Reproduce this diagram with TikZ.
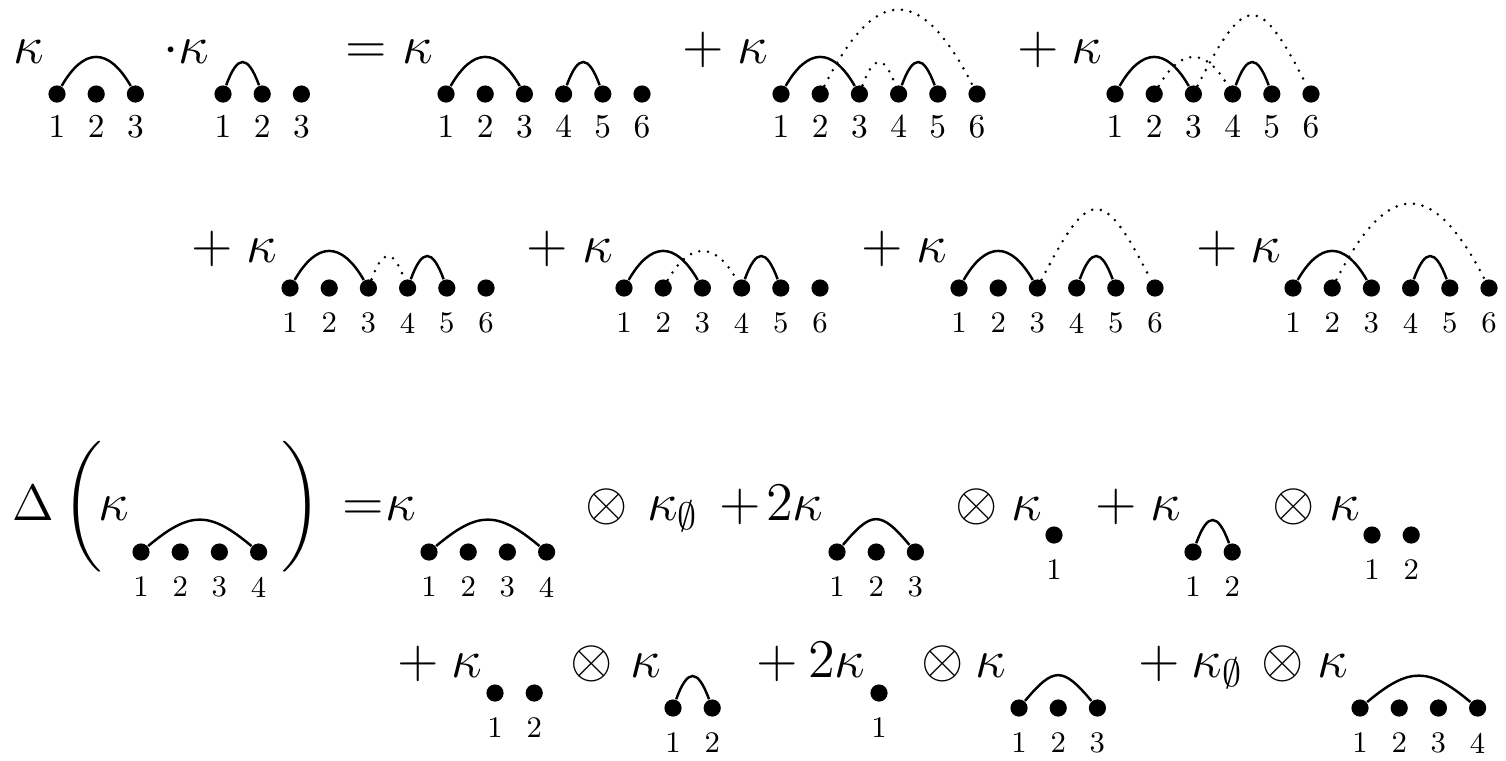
\documentclass[tikz,border=0pt]{standalone}
\usepackage{fix-cm}
\usepackage{amsmath,amssymb}
\usepackage{tikz}
\usetikzlibrary{positioning}

% a row of vertices #1<i>, numbered underneath (#5 = label style)
\newcommand{\vertrow}[5]{%
  \foreach \i in {1,...,#4}{%
    \node[vtx] (#1\i) at ({#2+39.2*(\i-1)},#3) {};
    \node[#5,below=of #1\i] (#1\i l) {\i};
  }}

\begin{document}
\begin{tikzpicture}[x=0.1mm,y=0.1mm]
    \tikzstyle{vtx}=[circle,fill,minimum size=1.72mm,inner sep=0pt];
    \tikzstyle{lbla}=[inner sep=0pt,font=\fontsize{9.5}{11}\selectfont,node distance=1.12mm];
    \tikzstyle{lblb}=[inner sep=0pt,font=\fontsize{8.5}{10}\selectfont,node distance=1.5mm];
    \tikzstyle{sym}=[inner sep=0pt,anchor=base,font=\fontsize{15.5}{18.6}\selectfont];
    \tikzstyle{chord}=[line width=0.7pt];
    \tikzstyle{ghost}=[line width=0.8pt,dash pattern=on 0pt off 2.5pt,line cap=round];
    \tikzstyle{arcI}=[out=70,in=110,looseness=2.58];
    \tikzstyle{arcII}=[out=60,in=120,looseness=1.66];
    \tikzstyle{arcIII}=[out=63,in=117,looseness=2.48];
    \tikzstyle{arcIV}=[out=63,in=117,looseness=1.97];
    \tikzstyle{flatII}=[out=50,in=130,looseness=1.73];
    \tikzstyle{flatIII}=[out=40,in=140,looseness=1.36];
    \useasboundingbox (0,0) rectangle (1506,-760);

    % product, first line
    \foreach \n/\x/\s in {k1/29/\kappa,k2/186/\cdot\kappa,e1/366/=,k3/418/\kappa,p1/703/+,k4/753/\kappa,p2/1038/+,k5/1087/\kappa}
      \node[sym] (\n) at (\x,-63.5) {$\s$};
    \vertrow{A}{57}{-94}{3}{lbla}
    \vertrow{B}{223}{-94}{3}{lbla}
    \vertrow{C}{446}{-94}{6}{lbla}
    \vertrow{D}{781}{-94}{6}{lbla}
    \vertrow{E}{1115}{-94}{6}{lbla}
    \draw[chord] (A1) to[arcII] (A3);
    \draw[chord] (B1) to[arcI] (B2);
    \draw[chord] (C1) to[arcII] (C3); \draw[chord] (C4) to[arcI] (C5);
    \draw[chord] (D1) to[arcII] (D3); \draw[chord] (D4) to[arcI] (D5);
    \draw[ghost] (D3) to[arcI] (D4); \draw[ghost] (D2) to[arcIV] (D6);
    \draw[chord] (E1) to[arcII] (E3); \draw[chord] (E4) to[arcI] (E5);
    \draw[ghost] (E2) to[arcII] (E4); \draw[ghost] (E3) to[arcIII] (E6);

    % product, second line
    \foreach \n/\x/\s in {p3/212/+,k6/262/\kappa,p4/547/+,k7/597.5/\kappa,p5/882/+,k8/932/\kappa,p6/1217/+,k9/1266/\kappa}
      \node[sym] (\n) at (\x,-262) {$\s$};
    \vertrow{F}{290}{-288}{6}{lblb}
    \vertrow{G}{624}{-288}{6}{lblb}
    \vertrow{H}{959}{-288}{6}{lblb}
    \vertrow{I}{1293}{-288}{6}{lblb}
    \draw[chord] (F1) to[arcII] (F3); \draw[chord] (F4) to[arcI] (F5);
    \draw[ghost] (F3) to[arcI] (F4);
    \draw[chord] (G1) to[arcII] (G3); \draw[chord] (G4) to[arcI] (G5);
    \draw[ghost] (G2) to[arcII] (G4);
    \draw[chord] (H1) to[arcII] (H3); \draw[chord] (H4) to[arcI] (H5);
    \draw[ghost] (H3) to[arcIII] (H6);
    \draw[chord] (I1) to[arcII] (I3); \draw[chord] (I4) to[arcI] (I5);
    \draw[ghost] (I2) to[arcIV] (I6);

    % coproduct, first line
    \node[sym,font=\fontsize{14.5}{17}\selectfont] (dl) at (33,-520) {$\Delta$};
    \foreach \n/\x/\s in {lp/82.5/\bigg(,k10/114/\kappa,rp/301.5/\bigg),e2/363.5/=,k11/400.5/\kappa,t1/607/\otimes,k12/673/\kappa_{\emptyset},p7/740/+,k13/795/2\kappa,t2/977/\otimes,k14/1026.5/\kappa,p8/1116/+,k15/1166/\kappa,t3/1294/\otimes,k16/1344.5/\kappa}
      \node[sym] (\n) at (\x,-520) {$\s$};
    \vertrow{X}{141}{-552}{4}{lblb}
    \vertrow{Y}{429}{-552}{4}{lblb}
    \vertrow{Z}{837}{-552}{3}{lblb}
    \vertrow{S}{1054}{-535}{1}{lblb}
    \vertrow{T}{1193}{-552}{2}{lblb}
    \vertrow{U}{1372}{-535}{2}{lblb}
    \draw[chord] (X1) to[flatIII] (X4);
    \draw[chord] (Y1) to[flatIII] (Y4);
    \draw[chord] (Z1) to[flatII] (Z3);
    \draw[chord] (T1) to[arcI] (T2);

    % coproduct, second line
    \foreach \n/\x/\s in {p9/418/+,k17/467/\kappa,t4/592/\otimes,k18/645.5/\kappa,p10/777/+,k19/837/2\kappa,t5/943/\otimes,k20/990.5/\kappa,p11/1159/+,k21/1217.5/\kappa_{\emptyset},t6/1283/\otimes,k22/1332.5/\kappa}
      \node[sym] (\n) at (\x,-677) {$\s$};
    \vertrow{V}{495}{-693}{2}{lblb}
    \vertrow{W}{673}{-708}{2}{lblb}
    \vertrow{Q}{879}{-693}{1}{lblb}
    \vertrow{R}{1019}{-708}{3}{lblb}
    \vertrow{P}{1360}{-708}{4}{lblb}
    \draw[chord] (W1) to[arcI] (W2);
    \draw[chord] (R1) to[flatII] (R3);
    \draw[chord] (P1) to[flatIII] (P4);
\end{tikzpicture}
\end{document}
